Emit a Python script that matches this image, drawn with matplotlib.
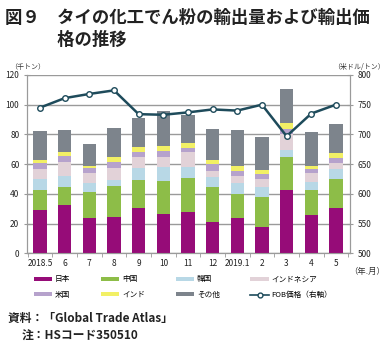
import matplotlib.pyplot as plt
import numpy as np
from matplotlib.lines import Line2D
from matplotlib.patches import Patch

plt.rcParams['font.family'] = ['Noto Sans CJK JP', 'DejaVu Sans']

# data (千トン, 米ドル/トン)
months = ["2018.5", "6", "7", "8", "9", "10", "11", "12", "2019.1", "2", "3", "4", "5"]
japan = [29.2, 32.5, 24.0, 24.7, 30.3, 26.5, 27.6, 21.3, 24.0, 17.9, 42.6, 25.8, 30.3]
china = [13.6, 12.4, 17.0, 20.8, 19.0, 22.4, 22.9, 23.6, 15.7, 20.2, 22.0, 16.8, 19.7]
korea = [7.0, 6.9, 6.1, 3.8, 7.9, 9.0, 7.8, 6.7, 7.4, 6.3, 4.9, 5.2, 6.5]
indonesia = [7.0, 9.9, 7.2, 8.3, 7.9, 7.2, 9.7, 4.0, 5.2, 5.4, 11.0, 6.0, 4.1]
usa = [4.0, 4.1, 3.3, 3.9, 3.1, 4.0, 3.1, 4.3, 3.3, 3.4, 3.2, 3.0, 3.8]
india = [2.2, 2.2, 1.4, 3.1, 3.1, 3.4, 3.4, 2.9, 3.1, 2.9, 4.3, 2.0, 2.9]
others = [19.3, 15.2, 14.8, 20.0, 19.5, 23.5, 18.6, 20.6, 24.2, 22.0, 22.6, 23.1, 19.5]
fob = [745, 761, 768, 774, 734, 733, 737, 742, 740, 750, 697, 735, 750]

series = [
    ("日本", japan, "#960c78"),
    ("中国", china, "#8dbd48"),
    ("韓国", korea, "#b8d8e6"),
    ("インドネシア", indonesia, "#e2d2d8"),
    ("米国", usa, "#b6a2cc"),
    ("インド", india, "#f2f065"),
    ("その他", others, "#7d848c"),
]
line_color = "#1e4b5b"
grid_color = "#9a9a9a"

fig = plt.figure(figsize=(3.91, 3.42), dpi=100)
ax = fig.add_axes([0.069, 0.259, 0.826, 0.522])
x = np.arange(len(months))

bottom = np.zeros(len(months))
for name, vals, col in series:
    ax.bar(x, vals, width=0.54, bottom=bottom, color=col, zorder=3)
    bottom += np.array(vals)

ax.set_xlim(-0.53, 12.57)
ax.set_ylim(0, 120)
ax.set_yticks(range(0, 121, 20))
ax.set_xticks(x)
ax.set_xticklabels(months)
ax.set_xticks(np.arange(-0.5, 12.6, 1), minor=True)
ax.grid(axis="y", color=grid_color, linewidth=1.0, zorder=0)
ax.tick_params(axis="y", labelsize=6, colors=grid_color, labelcolor="#222222",
               direction="inout", length=5, pad=3)
ax.tick_params(axis="x", which="major", length=0, labelsize=6, labelcolor="#222222", pad=4)
ax.tick_params(axis="x", which="minor", length=3, direction="out", colors=grid_color)
for s in ax.spines.values():
    s.set_color(grid_color)
ax.spines["top"].set_visible(False)

ax2 = ax.twinx()
ax2.plot(x, fob, color=line_color, linewidth=1.8, marker="o", markersize=4,
         markerfacecolor="white", markeredgecolor=line_color, markeredgewidth=1.0, zorder=5)
ax2.set_ylim(500, 800)
ax2.set_yticks(range(500, 801, 50))
ax2.tick_params(axis="y", labelsize=6, colors=grid_color, labelcolor="#222222",
                direction="inout", length=5, pad=3)
for s in ax2.spines.values():
    s.set_color(grid_color)
ax2.spines["top"].set_visible(False)

# title and notes
fig.text(0.012, 0.948, "図９　タイの化工でん粉の輸出量および輸出価", fontsize=12.5,
         fontweight="bold", color="#222222", va="center")
fig.text(0.012, 0.884, "　　　格の推移", fontsize=12.5, fontweight="bold",
         color="#222222", va="center")
fig.text(0.025, 0.805, "（千トン）", fontsize=5, color="#333333", va="center")
fig.text(0.985, 0.805, "（米ドル/トン）", fontsize=5, color="#333333", va="center", ha="right")
fig.text(0.985, 0.205, "（年.月）", fontsize=6, color="#333333", va="center", ha="right")

handles = []
for name, vals, col in series:
    handles.append(Patch(facecolor=col, label=name))
fob_handle = Line2D([], [], color=line_color, linewidth=1.2, marker="o", markersize=3.5,
                    markerfacecolor="white", markeredgecolor=line_color, label="FOB価格（右軸）")
by_name = {h.get_label(): h for h in handles}
order = [by_name["日本"], by_name["米国"], by_name["中国"], by_name["インド"],
         by_name["韓国"], by_name["その他"], by_name["インドネシア"], fob_handle]
fig.legend(handles=order, ncol=4, loc="center", bbox_to_anchor=(0.468, 0.16),
           frameon=False, fontsize=5.5, handlelength=2.4, handleheight=0.45,
           handletextpad=0.4, columnspacing=4.0, labelspacing=1.0)

fig.text(0.02, 0.068, "資料：「Global Trade Atlas」", fontsize=8.5, fontweight="bold",
         color="#222222", va="center")
fig.text(0.055, 0.018, "注：HSコード350510", fontsize=8.5, fontweight="bold",
         color="#222222", va="center")

fig.savefig("out.png", dpi=100)
